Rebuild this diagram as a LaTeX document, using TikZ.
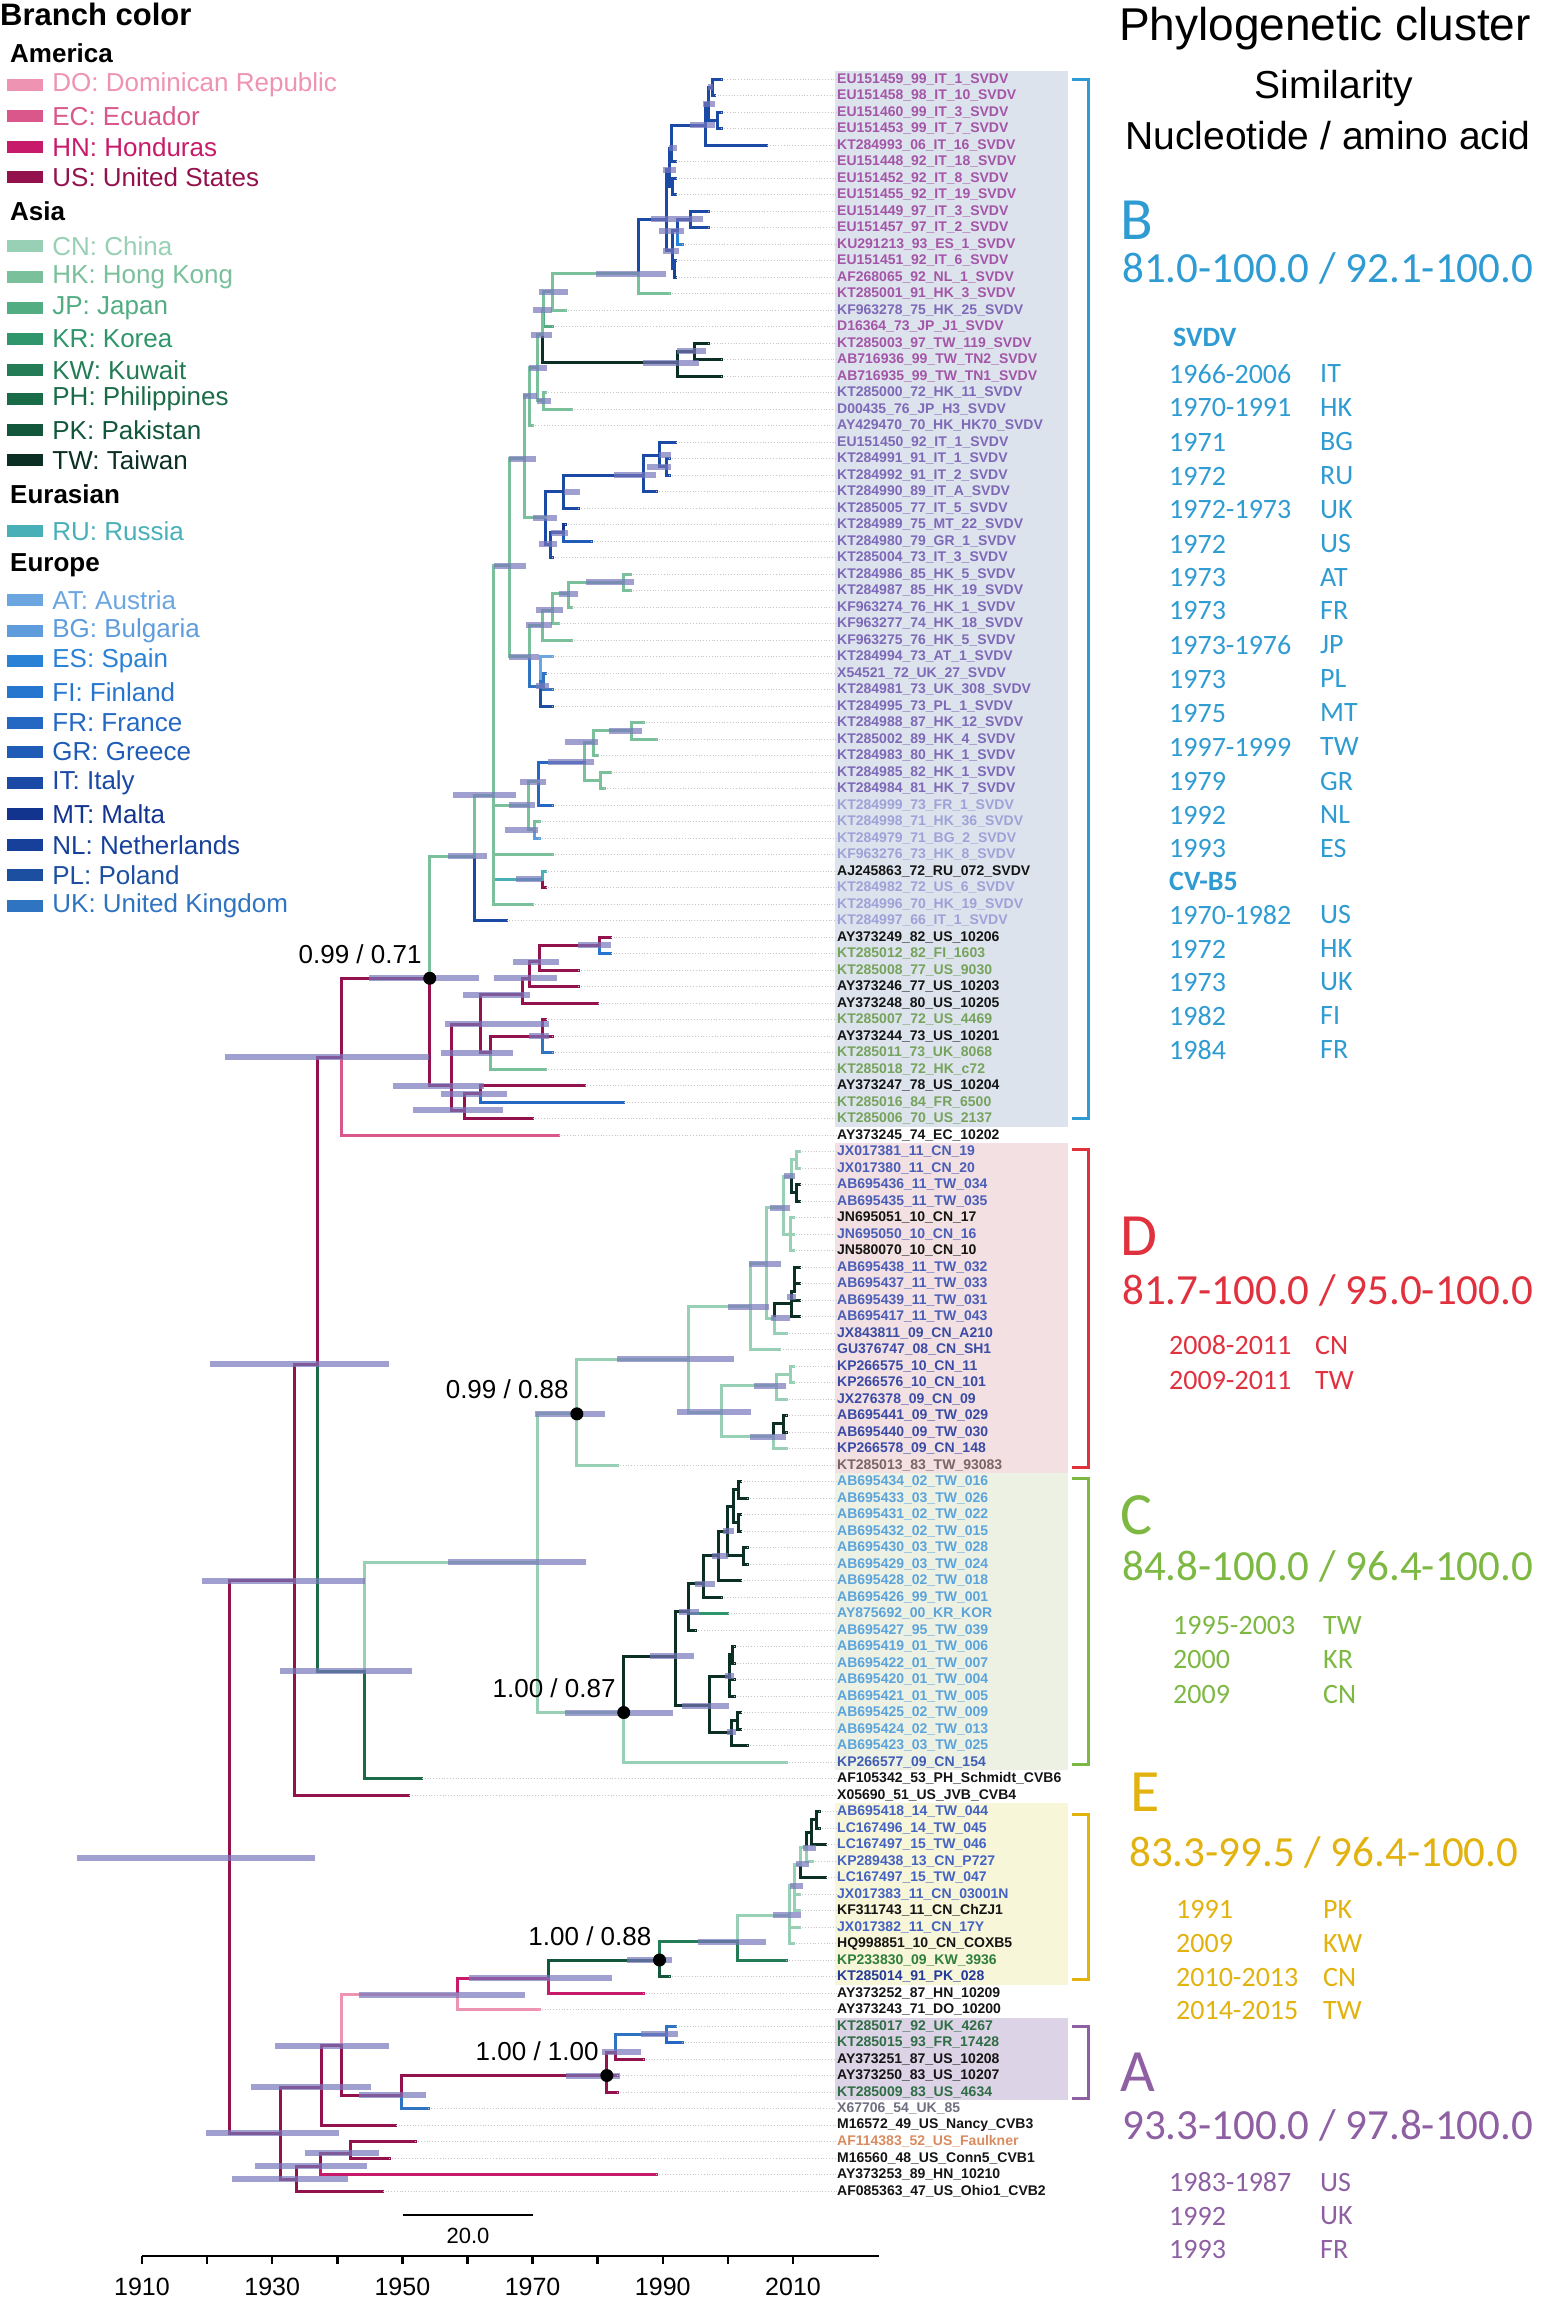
\documentclass[tikz,border=0pt]{standalone}
\usepackage{fontspec}
\setmainfont{Liberation Sans}
\newfontfamily\carl{Carlito}
\usetikzlibrary{positioning}

% branch colours (legend)
\definecolor{cDO}{HTML}{EE93B1}\definecolor{cEC}{HTML}{D9578A}
\definecolor{cHN}{HTML}{C81A6A}\definecolor{cUS}{HTML}{93124E}
\definecolor{cCN}{HTML}{97D0B5}\definecolor{cHK}{HTML}{79C09B}
\definecolor{cJP}{HTML}{52AD82}\definecolor{cKR}{HTML}{2F956A}
\definecolor{cKW}{HTML}{237C55}\definecolor{cPH}{HTML}{1A6B48}
\definecolor{cPK}{HTML}{12573B}\definecolor{cTW}{HTML}{0B2E25}
\definecolor{cRU}{HTML}{49B0B8}
\definecolor{cAT}{HTML}{6CA6E0}\definecolor{cBG}{HTML}{5E9CDC}
\definecolor{cES}{HTML}{2A82D6}\definecolor{cFI}{HTML}{2676CF}
\definecolor{cFR}{HTML}{2568C3}\definecolor{cGR}{HTML}{1F5CB8}
\definecolor{cIT}{HTML}{1A49A6}\definecolor{cMT}{HTML}{13348E}
\definecolor{cNL}{HTML}{16409A}\definecolor{cPL}{HTML}{1C4F9F}
\definecolor{cUK}{HTML}{2F74C1}
% tip label colours
\definecolor{lM}{HTML}{A455A8}\definecolor{lP}{HTML}{7E68B8}
\definecolor{lL}{HTML}{9FA2D8}\definecolor{lK}{HTML}{141414}
\definecolor{lG}{HTML}{76A35C}\definecolor{lB}{HTML}{4A5EB8}
\definecolor{lN}{HTML}{3A4BA5}\definecolor{lR}{HTML}{7A6464}
\definecolor{lS}{HTML}{5BA4DB}\definecolor{lD}{HTML}{3F5DB3}
\definecolor{lE}{HTML}{4462C2}\definecolor{lW}{HTML}{2F7E3C}
\definecolor{lQ}{HTML}{23399B}\definecolor{lA}{HTML}{2F6D45}
\definecolor{lY}{HTML}{6F6F80}\definecolor{lO}{HTML}{D98B5F}
% clusters
\definecolor{kB}{HTML}{2E9BD2}\definecolor{kD}{HTML}{E0313F}
\definecolor{kC}{HTML}{7DB843}\definecolor{kE}{HTML}{E2B20E}
\definecolor{kA}{HTML}{8E5FA2}
\definecolor{bgB}{HTML}{DCE3EC}\definecolor{bgD}{HTML}{F2E0E2}
\definecolor{bgC}{HTML}{EDF1E4}\definecolor{bgE}{HTML}{F7F6D8}
\definecolor{bgA}{HTML}{DDD3E6}
\definecolor{hpdc}{RGB}{120,120,188}

\begin{document}
\begin{tikzpicture}[x=1pt, y=-1pt,
  br/.style={line width=3pt, line cap=rect},
  hpd/.style={draw=hpdc, line width=6pt, opacity=0.7},
  guide/.style={draw=black!22, line width=0.8pt, dotted},
  tip/.style={font=\bfseries\fontsize{14}{14}\selectfont, inner sep=0pt, anchor=west},
  supp/.style={font=\fontsize{26}{26}\selectfont, inner sep=0pt, anchor=base east},
  dot/.style={circle, fill=black, inner sep=0pt, minimum size=13pt},
  swatch/.style={minimum width=36pt, minimum height=12pt, inner sep=0pt},
  legtx/.style={font=\fontsize{26}{26}\selectfont, inner sep=0pt},
  leghd/.style={font=\bfseries\fontsize{26}{26}\selectfont, inner sep=0pt, anchor=west},
  hdr/.style={font=\fontsize{39}{39}\selectfont, inner sep=0pt},
  clet/.style={font=\carl\fontsize{60}{60}\selectfont, inner sep=0pt, anchor=west},
  crng/.style={font=\carl\fontsize{43}{43}\selectfont, inner sep=0pt, anchor=west},
  clst/.style={font=\carl\fontsize{28}{28}\selectfont, inner sep=0pt, anchor=west},
  chd/.style={font=\carl\bfseries\fontsize{28}{28}\selectfont, inner sep=0pt, anchor=west},
  brk/.style={line width=3pt},
  axis/.style={line width=2.5pt},
  axl/.style={font=\fontsize{25}{25}\selectfont, inner sep=0pt}]
\useasboundingbox (0,0) rectangle (1547,2300);

% cluster backgrounds behind the tip labels
\fill[bgB] (835,70.75) rectangle (1068,1126.75);
\fill[bgD] (835,1143.25) rectangle (1068,1473.25);
\fill[bgC] (835,1473.25) rectangle (1068,1770.25);
\fill[bgE] (835,1803.25) rectangle (1068,1984.75);
\fill[bgA] (835,2017.75) rectangle (1068,2100.25);

% tree: x in years since 1900, y in rows
\begin{scope}[shift={(76.9,62.5)}, x=6.51pt, y=-16.5pt]
\foreach \rw/\yr in {1/99,2/98,3/99,4/99,5/106,6/92,7/92,8/92,9/97,10/97,11/93,12/92,13/92,14/91,15/75,16/73,17/97,18/99,19/99,20/72,21/76,22/70,23/92,24/91,25/91,26/89,27/77,28/75,29/79,30/73,31/85,32/85,33/76,34/74,35/76,36/73,37/72,38/73,39/73,40/87,41/89,42/80,43/82,44/81,45/73,46/71,47/71,48/73,49/72,50/72,51/70,52/66,53/82,54/82,55/77,56/77,57/80,58/72,59/73,60/73,61/72,62/78,63/84,64/70,65/74,66/111,67/111,68/111,69/111,70/110,71/110,72/110,73/111,74/111,75/111,76/111,77/109,78/108,79/110,80/110,81/109,82/109,83/109,84/109,85/83,86/102,87/103,88/102,89/102,90/103,91/103,92/102,93/99,94/100,95/95,96/101,97/101,98/101,99/101,100/102,101/102,102/103,103/109,104/53,105/51,106/114,107/114,108/115,109/113,110/115,111/111,112/111,113/111,114/110,115/109,116/91,117/87,118/71,119/92,120/93,121/87,122/83,123/83,124/54,125/49,126/52,127/48,128/89,129/47}
  \coordinate (t\rw) at (\yr,\rw);
\foreach \nm/\xx/\rw in {b1/97.6/1.5,b2/98.4/3.5,b3/97/2.5,b4/96.6/3.8,b5/94.3/9.5,b6/92.3/10.2,b7/91.8/12.5,b8/91.5/11.4,b9/91.5/7.5,b10/91.3/5.2,b11/91/6.5,b12/90.6/9.5,b13/86.2/12.8,b14/73/13.9,b15/71.75/15,b16/94.9/17.5,b17/92.25/18.2,b18/71.5/16.5,b19/71.6/20.5,b20/70.75/18.5,b21/69.5/20.2,b22/90.5/24.5,b23/89.5/23.8,b24/87/25,b25/74.75/26,b26/74.75/28.5,b27/72.7/29.2,b28/72/27.6,b29/68.75/24,b30/84/31.5,b31/75.5/32.2,b32/73/33.2,b33/71.5/34.1,b34/71.6/37.5,b35/71.2/37.8,b36/69.5/36,b37/66.5/30.5,b38/85.2/40.5,b39/79.4/41.2,b40/80.5/43.5,b41/78/42.4,b42/70.9/43.6,b43/70.3/46.5,b44/69.4/45,b45/71.5/49.5,b46/64/44.4,b47/61/48.1,b48/80.2/53.5,b49/71/54.5,b50/69.5/55.5,b51/68.5/56.5,b52/71.5/59,b53/63.6/60,b54/62/58.3,b55/62/62.5,b56/59.5/63.5,b57/57.5/62,b58/54.2/55.5,r1/40.6/60.3,d1/110.6/66.5,d2/110.6/68.5,d3/109.8/67.5,d4/109.6/71,d5/108.5/69.4,d6/110.3/74.5,d7/109.8/75.2,d8/107.2/76.1,d9/105.9/72.8,d10/103.5/75.4,d11/109.6/79.5,d12/107.5/80.2,d13/108.6/82.5,d14/107/83.3,d15/99/81.8,d16/93.9/78.6,d17/76.8/81.9,c1/101.7/86.5,c2/101.6/88.5,c3/100.8/87.5,c4/102.4/90.5,c5/100/89,c6/98.6/90.5,c7/96.3/92.2,c8/93.9/93.9,c9/100.7/96.5,c10/100.2/97.8,c11/101.5/100.5,c12/100.6/101.2,c13/97.1/99.6,c14/91.9/96.6,c15/84/100,r2/70.8/90.9,r3/44.2/97.5,r4/36.9/78.9,r5/33.5/92,e1/113.6/106.5,e2/112.8/107.3,e3/112/108.2,e4/111.2/109.2,e5/110.2/110.5,e6/109.4/112.3,e7/101.5/113.9,e8/89.5/115,e9/72.5/116.1,e10/58.5/117.1,a1/90.5/119.5,a2/82.8/120.6,a3/81.4/122,a4/49.8/123.2,r6/40.6/120.2,r7/37.5/122.7,r8/42.1/126.7,r9/37.4/127.5,r10/33.7/128.3,r11/31.3/125.5,r0/23.4/108.8}
  \coordinate (\nm) at (\xx,\rw);

% branches, coloured by country of the child
\foreach \pa/\ch/\cl in {b1/t1/IT,b1/t2/IT,b2/t3/IT,b2/t4/IT,b3/b1/IT,b3/b2/IT,b4/b3/IT,b4/t5/IT,b5/t9/IT,b5/t10/IT,b6/b5/IT,b6/t11/ES,b7/t12/IT,b7/t13/NL,b8/b6/IT,b8/b7/IT,b9/t7/IT,b9/t8/IT,b10/b4/IT,b10/t6/IT,b11/b10/IT,b11/b9/IT,b12/b11/IT,b12/b8/IT,b13/b12/IT,b13/t14/HK,b14/b13/HK,b14/t15/HK,b15/b14/HK,b15/t16/JP,b16/t17/TW,b16/t18/TW,b17/b16/TW,b17/t19/TW,b18/b15/HK,b18/b17/TW,b19/t20/HK,b19/t21/HK,b20/b18/HK,b20/b19/HK,b21/b20/HK,b21/t22/HK,b22/t24/IT,b22/t25/IT,b23/t23/IT,b23/b22/IT,b24/b23/IT,b24/t26/IT,b25/b24/IT,b25/t27/IT,b26/t28/MT,b26/t29/GR,b27/b26/IT,b27/t30/IT,b28/b25/IT,b28/b27/IT,b29/b21/HK,b29/b28/HK,b30/t31/HK,b30/t32/HK,b31/b30/HK,b31/t33/HK,b32/b31/HK,b32/t34/HK,b33/b32/HK,b33/t35/HK,b34/t37/UK,b34/t38/UK,b35/t36/AT,b35/b34/UK,b35/t39/PL,b36/b33/HK,b36/b35/UK,b37/b29/HK,b37/b36/HK,b38/t40/HK,b38/t41/HK,b39/b38/HK,b39/t42/HK,b40/t43/HK,b40/t44/HK,b41/b39/HK,b41/b40/HK,b42/b41/FR,b42/t45/FR,b43/t46/HK,b43/t47/BG,b44/b42/HK,b44/b43/HK,b45/t49/RU,b45/t50/US,b46/b37/HK,b46/b44/HK,b46/t48/HK,b46/b45/RU,b46/t51/HK,b47/b46/HK,b47/t52/IT,b48/t53/US,b48/t54/FI,b49/b48/US,b49/t55/US,b50/b49/US,b50/t56/US,b51/b50/US,b51/t57/US,b52/t58/US,b52/t59/US,b52/t60/UK,b53/b52/US,b53/t61/HK,b54/b51/US,b54/b53/US,b55/t62/US,b55/t63/FR,b56/b55/US,b56/t64/US,b57/b54/US,b57/b56/US,b58/b47/HK,b58/b57/US,r1/b58/US,r1/t65/EC,d1/t66/CN,d1/t67/CN,d2/t68/TW,d2/t69/TW,d3/d1/CN,d3/d2/TW,d4/t70/CN,d4/t71/CN,d4/t72/CN,d5/d3/CN,d5/d4/CN,d6/t73/TW,d6/t74/TW,d7/d6/TW,d7/t75/TW,d7/t76/TW,d8/d7/TW,d8/t77/CN,d9/d5/CN,d9/d8/CN,d10/d9/CN,d10/t78/CN,d11/t79/CN,d11/t80/CN,d12/d11/CN,d12/t81/CN,d13/t82/TW,d13/t83/TW,d14/d13/TW,d14/t84/CN,d15/d12/CN,d15/d14/CN,d16/d10/CN,d16/d15/CN,d17/d16/CN,d17/t85/CN,c1/t86/TW,c1/t87/TW,c2/t88/TW,c2/t89/TW,c3/c1/TW,c3/c2/TW,c4/t90/TW,c4/t91/TW,c5/c3/TW,c5/c4/TW,c6/c5/TW,c6/t92/TW,c7/c6/TW,c7/t93/TW,c8/c7/TW,c8/t94/KR,c8/t95/TW,c9/t96/TW,c9/t97/TW,c10/c9/TW,c10/t98/TW,c10/t99/TW,c11/t100/TW,c11/t101/TW,c12/c11/TW,c12/t102/TW,c13/c10/TW,c13/c12/TW,c14/c8/TW,c14/c13/TW,c15/c14/TW,c15/t103/CN,r2/d17/CN,r2/c15/CN,r3/r2/CN,r3/t104/PH,r4/r1/US,r4/r3/PH,r5/r4/US,r5/t105/US,e1/t106/TW,e1/t107/TW,e2/e1/TW,e2/t108/TW,e3/e2/TW,e3/t109/CN,e4/e3/CN,e4/t110/TW,e5/e4/CN,e5/t111/CN,e5/t112/CN,e6/e5/CN,e6/t113/CN,e6/t114/CN,e7/e6/CN,e7/t115/KW,e8/e7/KW,e8/t116/PK,e9/e8/PK,e9/t117/HN,e10/e9/HN,e10/t118/DO,a1/t119/UK,a1/t120/FR,a2/a1/UK,a2/t121/US,a3/a2/US,a3/t122/US,a3/t123/US,a4/a3/US,a4/t124/UK,r6/e10/DO,r6/a4/US,r7/r6/US,r7/t125/US,r8/t126/US,r8/t127/US,r9/r8/US,r9/t128/HN,r10/r9/US,r10/t129/US,r11/r7/US,r11/r10/US,r0/r5/US,r0/r11/US}
  \draw[br, c\cl] (\pa) |- (\ch);

% 95% HPD bars
\foreach \lo/\hi/\rw in {0/36.6/108.8,19.2/44.2/92,20.5/47.9/78.9,22.8/54.1/60.3,44.9/61.8/55.5,31.2/51.5/97.5,57/78.2/90.9,70.4/81.1/81.9,83/100.9/78.6,100/106.3/75.4,103.2/108.1/72.8,92.2/103.6/81.8,106.5/109.5/69.4,104/109/80.2,103.4/109/83.3,106.6/109.5/76.1,108.6/110.3/67.5,109.1/110.5/74.8,75/91.6/100,88.1/94.8/96.6,93/100.2/99.6,92.5/95.5/93.9,95/98/92.2,97.5/100/90.5,99.2/101/89,99.5/101/97.8,99.8/101.3/101.2,19.8/40.3/125.5,26.7/45.2/122.7,30.4/47.9/120.2,43.3/68.8/117.1,60.2/82.2/116.1,84.5/91.4/115,95.4/105.8/113.9,107/111.2/112.3,109.5/111.5/110.5,110.5/112.5/109.2,111.5/113.5/108.2,43.3/53.6/123.2,75.2/83.4/122,80.7/86.7/120.6,86.7/92.3/119.5,23.8/41.7/128.3,27.4/44.6/127.5,35/46.4/126.7,57.8/67.4/44.4,64/69/30.5,66.3/70.4/45,65.7/70.8/46.5,68/72/43.6,72.4/79.4/42.4,75/80/41.2,81.7/86.8/40.5,67.5/71.4/49.5,57/63/48.1,48.6/62.6/62,51.6/65.5/63.5,56/66/62.5,56.6/72.5/58.3,59.3/69.6/56.5,64/73.8/55.5,67/74/54.5,77/82/53.5,56/67/60,69.5/72.5/59,79.75/90.5/12.8,71/75.4/13.9,70/73/15,69.75/73/16.5,87/95.6/18.2,92.25/96.6/17.5,69.5/72.25/18.5,68.5/70.75/20.2,70.75/72.75/20.5,89.4/91.25/23.8,87.5/91.25/24.5,82.5/89/25,74.75/77.25/26,66.4/70.5/24,70/73.75/27.6,72.75/75.5/28.5,71/73.75/29.2,78.25/85.5/31.5,74/77/32.2,70.5/74.6/33.2,69/73/34.1,70.5/72.5/37.8,66.4/71/36,94.25/98/3.8,96.25/98/2.5,97/97.75/1.5,91/92.25/5.2,90/92/6.5,92/96.25/9.5,89.4/93.25/10.2,88.25/92/9.5,90/92.5/11.4}
  \draw[hpd] (\lo,\rw) -- (\hi,\rw);
\end{scope}

% supported nodes
\foreach \nm in {b58,d17,c15,e8,a3}
  \node[dot] (k\nm) at (\nm) {};
\node[supp] at ([shift={(-8pt,15pt)}]kb58.center) {0.99 / 0.71};
\node[supp] at ([shift={(-8pt,15pt)}]kd17.center) {0.99 / 0.88};
\node[supp] at ([shift={(-8pt,15pt)}]kc15.center) {1.00 / 0.87};
\node[supp] at ([shift={(-8pt,15pt)}]ke8.center) {1.00 / 0.88};
\node[supp] at ([shift={(-8pt,15pt)}]ka3.center) {1.00 / 1.00};

% tip labels
\foreach \rw/\cl/\tx in {1/lM/EU151459\_99\_IT\_1\_SVDV,2/lM/EU151458\_98\_IT\_10\_SVDV,3/lM/EU151460\_99\_IT\_3\_SVDV,4/lM/EU151453\_99\_IT\_7\_SVDV,5/lM/KT284993\_06\_IT\_16\_SVDV,6/lM/EU151448\_92\_IT\_18\_SVDV,7/lM/EU151452\_92\_IT\_8\_SVDV,8/lM/EU151455\_92\_IT\_19\_SVDV,9/lM/EU151449\_97\_IT\_3\_SVDV,10/lM/EU151457\_97\_IT\_2\_SVDV,11/lM/KU291213\_93\_ES\_1\_SVDV,12/lM/EU151451\_92\_IT\_6\_SVDV,13/lM/AF268065\_92\_NL\_1\_SVDV,14/lM/KT285001\_91\_HK\_3\_SVDV,15/lP/KF963278\_75\_HK\_25\_SVDV,16/lM/D16364\_73\_JP\_J1\_SVDV,17/lM/KT285003\_97\_TW\_119\_SVDV,18/lM/AB716936\_99\_TW\_TN2\_SVDV,19/lM/AB716935\_99\_TW\_TN1\_SVDV,20/lP/KT285000\_72\_HK\_11\_SVDV,21/lP/D00435\_76\_JP\_H3\_SVDV,22/lP/AY429470\_70\_HK\_HK70\_SVDV,23/lP/EU151450\_92\_IT\_1\_SVDV,24/lP/KT284991\_91\_IT\_1\_SVDV,25/lP/KT284992\_91\_IT\_2\_SVDV,26/lP/KT284990\_89\_IT\_A\_SVDV,27/lP/KT285005\_77\_IT\_5\_SVDV,28/lP/KT284989\_75\_MT\_22\_SVDV,29/lP/KT284980\_79\_GR\_1\_SVDV,30/lP/KT285004\_73\_IT\_3\_SVDV,31/lP/KT284986\_85\_HK\_5\_SVDV,32/lP/KT284987\_85\_HK\_19\_SVDV,33/lP/KF963274\_76\_HK\_1\_SVDV,34/lP/KF963277\_74\_HK\_18\_SVDV,35/lP/KF963275\_76\_HK\_5\_SVDV,36/lP/KT284994\_73\_AT\_1\_SVDV,37/lP/X54521\_72\_UK\_27\_SVDV,38/lP/KT284981\_73\_UK\_308\_SVDV,39/lP/KT284995\_73\_PL\_1\_SVDV,40/lP/KT284988\_87\_HK\_12\_SVDV,41/lP/KT285002\_89\_HK\_4\_SVDV,42/lP/KT284983\_80\_HK\_1\_SVDV,43/lP/KT284985\_82\_HK\_1\_SVDV,44/lP/KT284984\_81\_HK\_7\_SVDV,45/lL/KT284999\_73\_FR\_1\_SVDV,46/lL/KT284998\_71\_HK\_36\_SVDV,47/lL/KT284979\_71\_BG\_2\_SVDV,48/lL/KF963276\_73\_HK\_8\_SVDV,49/lK/AJ245863\_72\_RU\_072\_SVDV,50/lL/KT284982\_72\_US\_6\_SVDV,51/lL/KT284996\_70\_HK\_19\_SVDV,52/lL/KT284997\_66\_IT\_1\_SVDV,53/lK/AY373249\_82\_US\_10206,54/lG/KT285012\_82\_FI\_1603,55/lG/KT285008\_77\_US\_9030,56/lK/AY373246\_77\_US\_10203,57/lK/AY373248\_80\_US\_10205,58/lG/KT285007\_72\_US\_4469,59/lK/AY373244\_73\_US\_10201,60/lG/KT285011\_73\_UK\_8068,61/lG/KT285018\_72\_HK\_c72,62/lK/AY373247\_78\_US\_10204,63/lG/KT285016\_84\_FR\_6500,64/lG/KT285006\_70\_US\_2137,65/lK/AY373245\_74\_EC\_10202,66/lB/JX017381\_11\_CN\_19,67/lB/JX017380\_11\_CN\_20,68/lB/AB695436\_11\_TW\_034,69/lB/AB695435\_11\_TW\_035,70/lK/JN695051\_10\_CN\_17,71/lB/JN695050\_10\_CN\_16,72/lK/JN580070\_10\_CN\_10,73/lB/AB695438\_11\_TW\_032,74/lB/AB695437\_11\_TW\_033,75/lB/AB695439\_11\_TW\_031,76/lB/AB695417\_11\_TW\_043,77/lN/JX843811\_09\_CN\_A210,78/lN/GU376747\_08\_CN\_SH1,79/lN/KP266575\_10\_CN\_11,80/lN/KP266576\_10\_CN\_101,81/lN/JX276378\_09\_CN\_09,82/lN/AB695441\_09\_TW\_029,83/lN/AB695440\_09\_TW\_030,84/lN/KP266578\_09\_CN\_148,85/lR/KT285013\_83\_TW\_93083,86/lS/AB695434\_02\_TW\_016,87/lS/AB695433\_03\_TW\_026,88/lS/AB695431\_02\_TW\_022,89/lS/AB695432\_02\_TW\_015,90/lS/AB695430\_03\_TW\_028,91/lS/AB695429\_03\_TW\_024,92/lS/AB695428\_02\_TW\_018,93/lS/AB695426\_99\_TW\_001,94/lS/AY875692\_00\_KR\_KOR,95/lS/AB695427\_95\_TW\_039,96/lS/AB695419\_01\_TW\_006,97/lS/AB695422\_01\_TW\_007,98/lS/AB695420\_01\_TW\_004,99/lS/AB695421\_01\_TW\_005,100/lS/AB695425\_02\_TW\_009,101/lS/AB695424\_02\_TW\_013,102/lS/AB695423\_03\_TW\_025,103/lD/KP266577\_09\_CN\_154,104/lK/AF105342\_53\_PH\_Schmidt\_CVB6,105/lK/X05690\_51\_US\_JVB\_CVB4,106/lE/AB695418\_14\_TW\_044,107/lE/LC167496\_14\_TW\_045,108/lE/LC167497\_15\_TW\_046,109/lE/KP289438\_13\_CN\_P727,110/lE/LC167497\_15\_TW\_047,111/lE/JX017383\_11\_CN\_03001N,112/lK/KF311743\_11\_CN\_ChZJ1,113/lE/JX017382\_11\_CN\_17Y,114/lK/HQ998851\_10\_CN\_COXB5,115/lW/KP233830\_09\_KW\_3936,116/lQ/KT285014\_91\_PK\_028,117/lK/AY373252\_87\_HN\_10209,118/lK/AY373243\_71\_DO\_10200,119/lA/KT285017\_92\_UK\_4267,120/lA/KT285015\_93\_FR\_17428,121/lK/AY373251\_87\_US\_10208,122/lK/AY373250\_83\_US\_10207,123/lA/KT285009\_83\_US\_4634,124/lY/X67706\_54\_UK\_85,125/lK/M16572\_49\_US\_Nancy\_CVB3,126/lO/AF114383\_52\_US\_Faulkner,127/lK/M16560\_48\_US\_Conn5\_CVB1,128/lK/AY373253\_89\_HN\_10210,129/lK/AF085363\_47\_US\_Ohio1\_CVB2}
  \node[tip, text=\cl] (l\rw) at (837,{62.5+16.5*\rw}) {\tx};
\foreach \rw in {1,...,129}
  \draw[guide] (t\rw) -- (l\rw.west);

% legend
\node[font=\bfseries\fontsize{31}{31}\selectfont, inner sep=0pt, anchor=west] (legtitle) at (0,14) {Branch color};
\node[leghd] (gAm) at (10,53) {America};
\node[leghd] (gAs) at (10,211) {Asia};
\node[leghd] (gEa) at (10,494) {Eurasian};
\node[leghd] (gEu) at (10,565) {Europe};
\foreach \yy/\cc/\tx in {85/DO/DO: Dominican Republic,116/EC/EC: Ecuador,147/HN/HN: Honduras,177/US/US: United States,246/CN/CN: China,277/HK/HK: Hong Kong,308/JP/JP: Japan,339/KR/KR: Korea,370/KW/KW: Kuwait,399/PH/PH: Philippines,430/PK/PK: Pakistan,460/TW/TW: Taiwan,531/RU/RU: Russia,600/AT/AT: Austria,631/BG/BG: Bulgaria,661/ES/ES: Spain,692/FI/FI: Finland,723/FR/FR: France,752/GR/GR: Greece,783/IT/IT: Italy,814/MT/MT: Malta,845/NL/NL: Netherlands,875/PL/PL: Poland,906/UK/UK: United Kingdom}
{
  \node[swatch, fill=c\cc] (sw\cc) at (25,\yy) {};
  \node[legtx, text=c\cc, right=9pt of sw\cc] (lg\cc) {\tx};
}

% right-hand panel
\node[hdr, font=\fontsize{46}{46}\selectfont] (hd1) at (1325,29) {Phylogenetic cluster};
\node[hdr] (hd2) at (1334,88) {Similarity};
\node[hdr] (hd3) at (1328,136) {Nucleotide / amino acid};

\node[clet, text=kB] (cB) at (1120,220) {B};
\node[crng, text=kB] (rB) at (1122,268) {81.0-100.0 / 92.1-100.0};
\node[chd, text=kB] (sv) at (1173,337) {SVDV};
\node[chd, text=kB] (cv) at (1169,881) {CV-B5};
\foreach \yy/\aa/\bb in {374/1966-2006/IT,408/1970-1991/HK,442/1971/BG,476/1972/RU,510/1972-1973/UK,544/1972/US,578/1973/AT,611/1973/FR,645/1973-1976/JP,679/1973/PL,713/1975/MT,747/1997-1999/TW,781/1979/GR,815/1992/NL,848/1993/ES,915/1970-1982/US,949/1972/HK,982/1973/UK,1016/1982/FI,1050/1984/FR}
{
  \node[clst, text=kB] at (1169,\yy) {\aa};
  \node[clst, text=kB] at (1320,\yy) {\bb};
}

\node[clet, text=kD] (cD) at (1120,1236) {D};
\node[crng, text=kD] (rD) at (1122,1290) {81.7-100.0 / 95.0-100.0};
\foreach \yy/\aa/\bb in {1345/2008-2011/CN,1380/2009-2011/TW}
{
  \node[clst, text=kD] at (1169,\yy) {\aa};
  \node[clst, text=kD] at (1315,\yy) {\bb};
}

\node[clet, text=kC] (cC) at (1120,1515) {C};
\node[crng, text=kC] (rC) at (1122,1566) {84.8-100.0 / 96.4-100.0};
\foreach \yy/\aa/\bb in {1625/1995-2003/TW,1659/2000/KR,1694/2009/CN}
{
  \node[clst, text=kC] at (1173,\yy) {\aa};
  \node[clst, text=kC] at (1323,\yy) {\bb};
}

\node[clet, text=kE] (cE) at (1130,1792) {E};
\node[crng, text=kE] (rE) at (1129,1852) {83.3-99.5 / 96.4-100.0};
\foreach \yy/\aa/\bb in {1909/1991/PK,1943/2009/KW,1977/2010-2013/CN,2010/2014-2015/TW}
{
  \node[clst, text=kE] at (1176,\yy) {\aa};
  \node[clst, text=kE] at (1323,\yy) {\bb};
}

\node[clet, text=kA] (cA) at (1120,2072) {A};
\node[crng, text=kA] (rA) at (1122,2125) {93.3-100.0 / 97.8-100.0};
\foreach \yy/\aa/\bb in {2182/1983-1987/US,2216/1992/UK,2249/1993/FR}
{
  \node[clst, text=kA] at (1169,\yy) {\aa};
  \node[clst, text=kA] at (1320,\yy) {\bb};
}

% brackets
\draw[brk, kB] (1072,79) -| (1088,1118) -- (1072,1118);
\draw[brk, kD] (1072,1149) -| (1088,1467) -- (1072,1467);
\draw[brk, kC] (1072,1478) -| (1088,1764) -- (1072,1764);
\draw[brk, kE] (1072,1814) -| (1088,1979) -- (1072,1979);
\draw[brk, kA] (1072,2026) -| (1088,2098) -- (1072,2098);

% scale bar and time axis
\coordinate (sb0) at (403,2215);
\coordinate (sbm) at (468,2215);
\coordinate (sb1) at (533,2215);
\draw[line width=2.5pt] (sb0) -- (sb1);
\node[font=\fontsize{22}{22}\selectfont, inner sep=0pt, below=13pt of sbm] (sbl) {20.0};
\draw[axis] (142,2256) -- (879,2256);
\foreach \i in {0,...,10}
  \draw[axis] ({142+65.1*\i},2256) -- ++(0,8);
\foreach \yr in {1910,1930,...,2010}
  \node[axl] at ({142+6.51*(\yr-1910)},2287) {\yr};
\end{tikzpicture}
\end{document}
